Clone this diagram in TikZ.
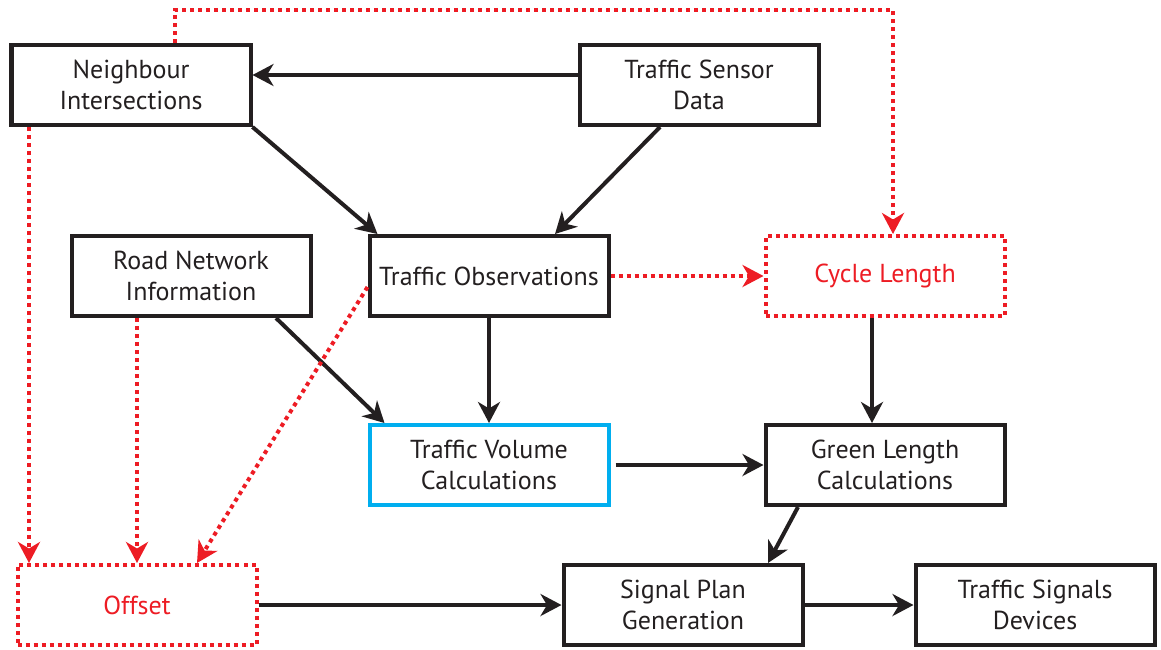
\documentclass[tikz,border=0pt]{standalone}
\usepackage{fontspec}
\setmainfont{PT Sans}
\usetikzlibrary{arrows.meta}
\definecolor{inkblack}{HTML}{231F20}
\definecolor{flowred}{HTML}{ED1C24}
\definecolor{flowblue}{HTML}{00AEEF}
\begin{document}
\begin{tikzpicture}[every node/.style={font=\fontsize{14.8}{18}\selectfont,text=inkblack},
  box/.style={draw=inkblack,line width=0.08cm,minimum width=4.78cm,minimum height=1.6cm,align=center,inner sep=0pt},
  redbox/.style={box,draw=flowred,dash pattern=on 0.08cm off 0.08cm,text=flowred},
  flow/.style={-{Stealth[length=0.42cm,width=0.44cm,inset=0.13cm]},line width=0.08cm,draw=inkblack},
  redflow/.style={flow,draw=flowred,dash pattern=on 0.08cm off 0.08cm}]
\useasboundingbox (0,0) rectangle (23.22,-12.98);
\node[box] (neigh) at (2.62,-1.70) {Neighbour\\Intersections};
\node[box] (sensor) at (13.98,-1.70) {Traffic Sensor\\Data};
\node[box] (road) at (3.82,-5.52) {Road Network\\Information};
\node[box] (obs) at (9.78,-5.52) {Traffic Observations};
\node[redbox] (cycle) at (17.70,-5.52) {Cycle Length};
\node[box,draw=flowblue] (volume) at (9.78,-9.30) {Traffic Volume\\Calculations};
\node[box] (green) at (17.70,-9.30) {Green Length\\Calculations};
\node[redbox] (offset) at (2.74,-12.10) {Offset};
\node[box] (plan) at (13.66,-12.10) {Signal Plan\\Generation};
\node[box] (devices) at (20.70,-12.10) {Traffic Signals\\Devices};
% solid data flow
\draw[flow] ([yshift=0.2cm]sensor.west) -- ([yshift=0.2cm]neigh.east);
\draw[flow] (neigh.south east) -- ([xshift=0.2cm]obs.north west);
\draw[flow] ([xshift=-0.78cm]sensor.south) -- ([xshift=1.32cm]obs.north);
\draw[flow] ([xshift=1.7cm]road.south) -- ([xshift=0.34cm]volume.north west);
\draw[flow] (obs.south) -- (volume.north);
\draw[flow] ([xshift=0.1cm]volume.east) -- (green.west);
\draw[flow] ([xshift=-0.26cm]cycle.south) -- ([xshift=-0.26cm]green.north);
\draw[flow] ([xshift=-1.74cm]green.south) -- ([xshift=1.7cm]plan.north);
\draw[flow] (offset.east) -- (plan.west);
\draw[flow] (plan.east) -- (devices.west);
% dotted red links
\coordinate (top) at (0,-0.2);
\coordinate (nout) at ([xshift=0.88cm]neigh.north);
\coordinate (cin) at ([xshift=0.16cm]cycle.north);
\coordinate (nleft) at ([xshift=-2.04cm]neigh.south);
\draw[redflow] (obs.east) -- (cycle.west);
\draw[redflow] (nout) -- (nout |- top) -| (cin);
\draw[redflow] (nleft) -- (nleft |- offset.north);
\draw[redflow] ([xshift=-1.08cm]road.south) -- (offset.north);
\draw[redflow] ([yshift=-0.22cm]obs.west) -- ([xshift=1.2cm]offset.north);
\end{tikzpicture}
\end{document}
